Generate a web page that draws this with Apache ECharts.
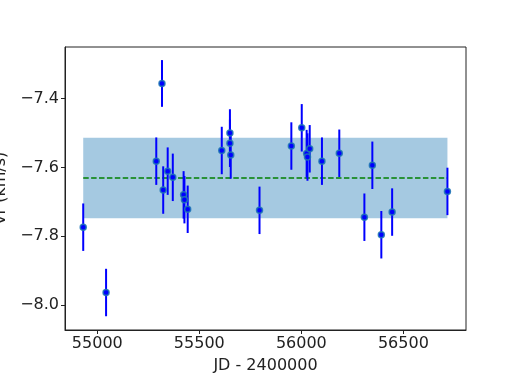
<!DOCTYPE html>
<html>
<head>
<meta charset="utf-8">
<script src="https://cdn.jsdelivr.net/npm/echarts@6/dist/echarts.min.js"></script>
<style>html,body{margin:0;padding:0;background:#fff}#c{width:518px;height:388px}</style>
</head>
<body>
<div id="c"></div>
<script>
const jd = [54931, 55043, 55317, 55289, 55323, 55345, 55370, 55423, 55427, 55443, 55610, 55650, 55650, 55654, 55795, 55951, 56002, 56026, 56030, 56041, 56101, 56186, 56309, 56348, 56392, 56445, 56716];
const vr = [-7.774, -7.964, -7.356, -7.582, -7.666, -7.611, -7.629, -7.680, -7.694, -7.722, -7.551, -7.500, -7.530, -7.564, -7.725, -7.538, -7.485, -7.560, -7.570, -7.546, -7.582, -7.559, -7.745, -7.594, -7.796, -7.730, -7.670];
const err = [0.069, 0.069, 0.068, 0.069, 0.069, 0.069, 0.069, 0.069, 0.069, 0.069, 0.069, 0.069, 0.069, 0.069, 0.069, 0.069, 0.069, 0.069, 0.069, 0.069, 0.069, 0.069, 0.069, 0.069, 0.069, 0.069, 0.069];
const meanV = -7.631;
const bandHalf = 0.117;
const xTicks = [55000, 55500, 56000, 56500];
const yTicks = [-8.0, -7.8, -7.6, -7.4];
const xName = 'JD - 2400000';
const yName = 'Vr (km/s)';

const xMin = 54841.7, xMax = 56807;
const yMin = -8.073, yMax = -7.25;
const xs = Math.min(...jd), xe = Math.max(...jd);
const pts = jd.map((x, i) => [x, vr[i], err[i]]);
const font = 'DejaVu Sans';

const chart = echarts.init(document.getElementById('c'), null, {renderer: 'canvas'});
chart.setOption({
  animation: false,
  grid: {left: 65, right: 52, top: 47, bottom: 58, containLabel: false, outerBoundsMode: 'none',
    show: true, borderColor: '#222', borderWidth: 1, backgroundColor: 'transparent'},
  xAxis: {
    type: 'value', min: xMin, max: xMax,
    name: xName, nameLocation: 'middle', nameGap: 28,
    nameTextStyle: {fontFamily: font, fontSize: 16, color: '#222'},
    axisLine: {show: true, onZero: false, lineStyle: {color: '#222'}},
    axisTick: {show: true, length: 4, customValues: xTicks, lineStyle: {color: '#222'}},
    axisLabel: {customValues: xTicks, fontFamily: font, fontSize: 16, color: '#222', margin: 6,
      formatter: v => String(Math.round(v))},
    splitLine: {show: false}
  },
  yAxis: {
    type: 'value', min: yMin, max: yMax,
    name: yName, nameLocation: 'middle', nameGap: 52, nameRotate: 90,
    nameTextStyle: {fontFamily: font, fontSize: 16, color: '#222'},
    axisLine: {show: true, onZero: false, lineStyle: {color: '#222'}},
    axisTick: {show: true, length: 4, customValues: yTicks, lineStyle: {color: '#222'}},
    axisLabel: {customValues: yTicks, fontFamily: font, fontSize: 16, color: '#222', margin: 6,
      formatter: v => (v < 0 ? '\u2212' : '') + Math.abs(v).toFixed(1)},
    splitLine: {show: false}
  },
  series: [
    {
      type: 'custom', z: 1, silent: true,
      data: [[xs, meanV - bandHalf, xe, meanV + bandHalf]],
      renderItem: (params, api) => {
        const p1 = api.coord([api.value(0), api.value(3)]);
        const p2 = api.coord([api.value(2), api.value(1)]);
        return {type: 'rect', shape: {x: p1[0], y: p1[1], width: p2[0] - p1[0], height: p2[1] - p1[1]},
          style: {fill: 'rgba(31,119,180,0.4)'}};
      }
    },
    {
      type: 'line', z: 2, silent: true, symbol: 'none',
      data: [[xs, meanV], [xe, meanV]],
      lineStyle: {color: '#008000', width: 1.6, type: [5.5, 2.4]}
    },
    {
      type: 'custom', z: 3, silent: true,
      data: pts,
      renderItem: (params, api) => {
        const x = api.value(0), y = api.value(1), e = api.value(2);
        const a = api.coord([x, y - e]), b = api.coord([x, y + e]);
        return {type: 'line', shape: {x1: a[0], y1: a[1], x2: b[0], y2: b[1]},
          style: {stroke: '#0000ff', lineWidth: 2}};
      }
    },
    {
      type: 'scatter', z: 4, silent: true,
      data: pts.map(p => [p[0], p[1]]),
      symbol: 'circle', symbolSize: 6,
      itemStyle: {color: '#0000ff', borderColor: 'rgba(31,119,180,0.85)', borderWidth: 1.5, opacity: 1}
    }
  ]
});
</script>
</body>
</html>
